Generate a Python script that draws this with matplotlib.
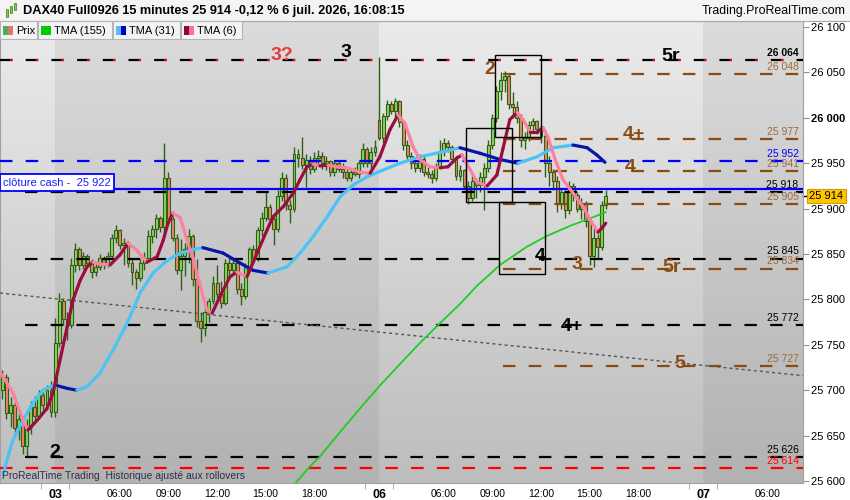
import numpy as np
import matplotlib
matplotlib.use("Agg")
import matplotlib.pyplot as plt
from matplotlib.collections import LineCollection
from matplotlib.colors import LinearSegmentedColormap
from matplotlib.patches import Rectangle
import matplotlib.transforms as mtransforms

plt.rcParams['font.family'] = ['Liberation Sans', 'DejaVu Sans']
plt.rcParams['lines.scale_dashes'] = False

## Data: 15 min bars, index 0 = first bar of day 03
bars = np.arange(-13, 137)

opens = [25700, 25715, 25675, 25684, 25658, 25668, 25638, 25660, 25682, 25672,
         25695, 25684, 25700, 25676, 25752, 25798, 25778, 25772, 25838, 25855,
         25838, 25848, 25840, 25830, 25836, 25846, 25840, 25848, 25868, 25876,
         25860, 25862, 25840, 25830, 25824, 25840, 25846, 25870, 25878, 25890,
         25880, 25934, 25888, 25868, 25832, 25848, 25855, 25870, 25822, 25776,
         25768, 25786, 25798, 25818, 25806, 25796, 25840, 25832, 25840, 25812,
         25804, 25836, 25855, 25846, 25876, 25890, 25902, 25888, 25878, 25914,
         25934, 25904, 25900, 25960, 25956, 25948, 25954, 25944, 25956, 25958,
         25950, 25952, 25940, 25950, 25944, 25940, 25934, 25940, 25938, 25950,
         25966, 25950, 25962, 25998, 25978, 26002, 26015, 26008, 26018, 25995,
         25970, 25958, 25950, 25945, 25955, 25940, 25938, 25934, 25946, 25962,
         25972, 25968, 25955, 25936, 25942, 25925, 25912, 25930, 25926, 25935,
         25945, 25970, 26000, 26030, 26042, 26046, 26015, 26012, 26000, 25975,
         25978, 25992, 25996, 25988, 25980, 25950, 25940, 25930, 25905, 25918,
         25898, 25925, 25915, 25900, 25905, 25886, 25848, 25868, 25858, 25904]
highs = [25722, 25718, 25692, 25688, 25675, 25672, 25668, 25688, 25694, 25700,
         25698, 25706, 25710, 25780, 25807, 25802, 25786, 25846, 25862, 25858,
         25852, 25850, 25845, 25840, 25850, 25848, 25852, 25872, 25882, 25878,
         25868, 25864, 25846, 25834, 25845, 25852, 25876, 25882, 25894, 25892,
         25972, 25940, 25892, 25872, 25866, 25862, 25878, 25872, 25845, 25786,
         25792, 25802, 25826, 25838, 25820, 25845, 25848, 25846, 25842, 25818,
         25840, 25858, 25860, 25880, 25896, 25918, 25905, 25892, 25920, 25940,
         25938, 25910, 25968, 25966, 25979, 25960, 25958, 25962, 25964, 25962,
         25958, 25954, 25954, 25952, 25950, 25944, 25944, 25946, 25954, 25972,
         25968, 25968, 25975, 26067, 26005, 26020, 26018, 26022, 26020, 25998,
         25975, 25962, 25954, 25960, 25958, 25946, 25942, 25950, 25975, 25978,
         25976, 25970, 25958, 25948, 25944, 25930, 25936, 25934, 25940, 25950,
         25975, 26004, 26035, 26050, 26052, 26048, 26028, 26018, 26004, 25984,
         25996, 26000, 25998, 25992, 25988, 25958, 25944, 25936, 25922, 25920,
         25930, 25928, 25918, 25912, 25908, 25888, 25880, 25872, 25908, 25920]
lows = [25690, 25668, 25660, 25650, 25645, 25630, 25628, 25652, 25665, 25668,
        25676, 25678, 25670, 25670, 25748, 25772, 25755, 25768, 25830, 25832,
        25834, 25836, 25824, 25826, 25832, 25834, 25836, 25844, 25862, 25856,
        25838, 25836, 25816, 25812, 25820, 25832, 25844, 25862, 25868, 25874,
        25872, 25884, 25864, 25828, 25810, 25826, 25840, 25815, 25770, 25753,
        25760, 25775, 25795, 25800, 25790, 25794, 25826, 25828, 25806, 25794,
        25800, 25832, 25840, 25842, 25870, 25886, 25884, 25860, 25874, 25908,
        25898, 25884, 25896, 25946, 25944, 25924, 25938, 25940, 25948, 25944,
        25942, 25936, 25936, 25940, 25934, 25930, 25930, 25936, 25934, 25946,
        25946, 25944, 25958, 25975, 25972, 25998, 26004, 26000, 25990, 25964,
        25952, 25944, 25940, 25940, 25936, 25934, 25928, 25930, 25944, 25958,
        25962, 25950, 25932, 25930, 25922, 25905, 25908, 25912, 25918, 25898,
        25940, 25966, 25995, 26020, 26028, 26010, 26000, 25994, 25968, 25966,
        25974, 25985, 25982, 25972, 25935, 25925, 25920, 25896, 25900, 25890,
        25894, 25908, 25896, 25888, 25880, 25838, 25836, 25846, 25854, 25900]
closes = [25715, 25675, 25684, 25658, 25668, 25638, 25660, 25682, 25672, 25695,
          25684, 25700, 25676, 25752, 25798, 25778, 25772, 25838, 25855, 25838,
          25848, 25840, 25830, 25836, 25846, 25840, 25848, 25868, 25876, 25860,
          25862, 25840, 25830, 25824, 25840, 25846, 25870, 25878, 25890, 25880,
          25934, 25888, 25868, 25832, 25848, 25855, 25870, 25822, 25776, 25768,
          25786, 25798, 25818, 25806, 25796, 25840, 25832, 25840, 25812, 25804,
          25836, 25855, 25846, 25876, 25890, 25902, 25888, 25878, 25914, 25934,
          25904, 25900, 25960, 25956, 25948, 25954, 25944, 25956, 25958, 25950,
          25952, 25940, 25950, 25944, 25940, 25934, 25940, 25938, 25950, 25966,
          25950, 25962, 25968, 25978, 26002, 26015, 26008, 26018, 25995, 25970,
          25958, 25950, 25945, 25955, 25940, 25938, 25934, 25946, 25962, 25972,
          25968, 25955, 25936, 25942, 25925, 25912, 25930, 25926, 25935, 25945,
          25970, 26000, 26030, 26042, 26046, 26015, 26012, 26000, 25975, 25978,
          25992, 25996, 25988, 25980, 25950, 25940, 25930, 25905, 25918, 25898,
          25925, 25915, 25900, 25905, 25886, 25848, 25868, 25858, 25904, 25914]

## Moving averages
tma6_x = [-13.6, -10.4, -7.9, -6.7, -4.4, -2.0, -0.5, 1.2, 3.0, 4.4, 6.2, 7.9, 9.4, 11.1,
          13.6, 16.0, 18.0, 20.2, 22.7, 25.2, 26.7, 27.9, 29.1, 30.9, 32.6, 34.1, 35.8,
          37.5, 38.8, 40.7, 43.2, 44.9, 47.4, 49.9, 52.3, 53.8, 56.3, 58.8, 60.5, 62.2,
          63.7, 65.4, 67.4, 69.6, 72.1, 75.3, 77.8, 80.2, 82.7, 84.7, 86.4, 88.4, 90.1,
          92.6, 95.1, 97.0, 99.3, 100.5, 102.5, 104.2, 106.7, 109.1, 110.6, 112.3, 114.1,
          115.6, 117.3, 119.0, 120.5, 121.7, 123.5, 125.4, 127.9, 130.4, 132.6, 134.1,
          135.3, 136.0]
tma6_y = [25720, 25697, 25667, 25656, 25667, 25680, 25697, 25733, 25770, 25799, 25821, 25836,
          25841, 25839, 25838, 25849, 25862, 25854, 25841, 25847, 25865, 25884, 25895, 25890,
          25865, 25845, 25816, 25788, 25785, 25803, 25825, 25830, 25825, 25851, 25876, 25891,
          25902, 25917, 25932, 25946, 25949, 25947, 25948, 25946, 25945, 25940, 25939, 25957,
          25987, 26003, 25994, 25968, 25954, 25946, 25945, 25946, 25956, 25959, 25943, 25929,
          25925, 25937, 25966, 25998, 26006, 25998, 25984, 25984, 25989, 25979, 25954, 25932,
          25917, 25902, 25884, 25874, 25880, 25884]
tma31_x = [-12.8, -11.9, -10.4, -7.9, -5.4, -3.0, -0.5, 0.5, 3.0, 5.4, 7.9, 11.1, 14.3,
           17.8, 21.0, 24.2, 27.7, 30.9, 34.1, 36.5, 41.5, 45.7, 48.9, 52.6, 57.3, 60.5,
           63.7, 67.2, 70.4, 73.6, 77.0, 80.2, 85.2, 90.1, 95.1, 100.0, 104.9, 109.9,
           114.3, 119.0, 123.0, 127.9, 131.4, 133.8, 135.8]
tma31_y = [25607, 25623, 25645, 25667, 25686, 25700, 25705, 25705, 25702, 25700, 25704,
           25719, 25744, 25774, 25807, 25829, 25843, 25851, 25855, 25857, 25851, 25840,
           25832, 25829, 25836, 25851, 25869, 25891, 25913, 25926, 25935, 25941, 25950,
           25957, 25962, 25967, 25961, 25954, 25950, 25957, 25967, 25970, 25967, 25959,
           25951]
tma155_x = [58.5, 62.5, 65.4, 70.4, 75.3, 80.2, 85.2, 90.1, 95.1, 100.0, 104.2, 109.9,
            116.5, 121.5, 127.2, 131.4, 136.0]
tma155_y = [25593, 25614, 25627, 25654, 25680, 25705, 25729, 25752, 25774, 25795, 25815,
            25838, 25858, 25870, 25881, 25888, 25896]

## Horizontal levels
black_red_level = 26064
brown_levels = [26048, 25977, 25941, 25905, 25834, 25727]
black_levels = [25918, 25845, 25772, 25626]
blue_dash_level = 25952
red_level = 25614
cash_close = 25922
last_price = 25914

## Trend line and zones
trend_x = [-13.6, 184.7]
trend_y = [25807, 25716]
box_x0 = [108.6, 101.5, 109.6]
box_x1 = [120.0, 112.8, 121.0]
box_lo = [25979, 25907, 25828]
box_hi = [26069, 25989, 25907]

## Wave labels
wave_text = ['3?', '3', '2', '5r', '4+', '4', '4', '3', '5r', '4+', '5', '2']
wave_x = [56.0, 71.9, 107.4, 151.9, 143.0, 142.0, 119.8, 128.9, 152.3, 127.7, 154.3, 0.0]
wave_y = [26069, 26072, 26053, 26067, 25982, 25945, 25847, 25838, 25835, 25770, 25729, 25631]
wave_col = ['#e83a3a', 'black', '#8a4b12', 'black', '#8a4b12', '#8a4b12', 'black',
            '#8a4b12', '#8a4b12', 'black', '#8a4b12', 'black']

## Axis ticks
x_tick_pos = [0, 16, 28, 40, 52, 64, 80, 96, 108, 120, 132, 144, 160, 176]
x_tick_lab = ['03', '06:00', '09:00', '12:00', '15:00', '18:00', '06', '06:00', '09:00',
              '12:00', '15:00', '18:00', '07', '06:00']
day_starts = [0, 80, 160]

XMIN, XMAX = -13.6, 184.7
YMIN, YMAX = 25597.8, 26106.6
BROWN = '#8a4b12'
BROWN_TXT = '#9a6a3a'

fig = plt.figure(figsize=(8.5, 5), dpi=100)
fig.patch.set_facecolor('white')
ax = fig.add_axes([0, 17 / 500, 803 / 850, 462 / 500])

## background: alternating day shading with vertical gradient
light = LinearSegmentedColormap.from_list('l', ['#ebebeb', '#bdbdbd'])
dark = LinearSegmentedColormap.from_list('d', ['#dcdcdc', '#b2b2b2'])
grad = np.linspace(0, 1, 256).reshape(-1, 1)
edges = [XMIN] + day_starts + [XMAX]
for i in range(len(edges) - 1):
    cm = light if i % 2 == 0 else dark
    ax.imshow(grad, extent=[edges[i], edges[i + 1], YMIN, YMAX], aspect='auto',
              cmap=cm, origin='upper', zorder=0)

## candles
o = np.array(opens); h = np.array(highs); l = np.array(lows); c = np.array(closes)
up = c >= o
ax.vlines(bars, l, h, color='#2f5f12', lw=1, zorder=2)
ax.bar(bars, np.maximum(np.abs(c - o), 1.0), bottom=np.minimum(o, c), width=0.72,
       color=np.where(up, '#86d65a', '#e8876b'), edgecolor='#2f5f12', linewidth=0.8,
       zorder=3)

## levels
dash = (9, 9.5)
ax.plot([XMIN, XMAX], [black_red_level] * 2, color='black', lw=1.6, dashes=dash, zorder=4)
ax.plot([XMIN, XMAX], [black_red_level] * 2, color='#ff0000', lw=1.6,
        linestyle=(11.3, (1.8, 16.7)), zorder=4)
for v in brown_levels:
    ax.plot([110.6, XMAX], [v, v], color=BROWN, lw=1.6, dashes=dash, zorder=4)
for v in black_levels:
    ax.plot([-7.4, XMAX], [v, v], color='black', lw=1.6, dashes=dash, zorder=4)
ax.plot([XMIN, XMAX], [blue_dash_level] * 2, color='#0000ff', lw=1.6, dashes=dash, zorder=4)
ax.plot([XMIN, XMAX], [red_level] * 2, color='#ff0000', lw=1.6, dashes=dash, zorder=4)
ax.plot([XMIN, XMAX], [cash_close] * 2, color='#0000ff', lw=1.6, zorder=4)
ax.plot(trend_x, trend_y, color='#555555', lw=1, dashes=(2.2, 2.2), zorder=4)

## level labels on the right
lab_x = 183.6
def lvl_label(v, col, weight='normal'):
    ax.annotate(f"{v:,}".replace(',', ' '), (lab_x, v), xytext=(0, 1.5),
                textcoords='offset points', ha='right', va='bottom', fontsize=7.5,
                color=col, fontweight=weight, zorder=6)

lvl_label(black_red_level, 'black', 'bold')
for v in brown_levels:
    lvl_label(v, BROWN_TXT)
for v in black_levels:
    lvl_label(v, 'black')
lvl_label(blue_dash_level, '#0000ff')
lvl_label(red_level, '#ff0000')

## moving averages
def colored_line(xs, ys, up_col, down_col, lw):
    pts = np.column_stack([xs, ys])
    segs = np.stack([pts[:-1], pts[1:]], axis=1)
    cols = [up_col if ys[i + 1] >= ys[i] else down_col for i in range(len(ys) - 1)]
    ax.add_collection(LineCollection(segs, colors=cols, linewidths=lw,
                                     capstyle='round', zorder=5))

ax.plot(tma155_x, tma155_y, color='#22cc22', lw=1.3, zorder=5)
colored_line(tma31_x, tma31_y, '#4cc3f5', '#0a14a8', 2.3)
colored_line(tma6_x, tma6_y, '#9b0d3e', '#ff7fa0', 2.3)

## zones
for i in range(len(box_x0)):
    ax.add_patch(Rectangle((box_x0[i], box_lo[i]), box_x1[i] - box_x0[i],
                           box_hi[i] - box_lo[i], fill=False, ec='black', lw=1, zorder=6))

## wave labels
for t, x, y, col in zip(wave_text, wave_x, wave_y, wave_col):
    ax.text(x, y, t, color=col, fontsize=14, fontweight='bold', ha='center',
            va='center', zorder=7)

## axes
ax.set_xlim(XMIN, XMAX)
ax.set_ylim(YMIN, YMAX)
for s in ax.spines.values():
    s.set_color('#a0a0a0')
    s.set_linewidth(0.8)

yt = np.arange(25600, 26101, 50)
ax.yaxis.tick_right()
ax.set_yticks(yt)
ax.set_yticklabels([f"{v:,}".replace(',', ' ') for v in yt])
ax.tick_params(axis='y', length=4, pad=2, labelsize=8, color='#909090')
for t in ax.get_yticklabels():
    if t.get_text() == '26 000':
        t.set_fontweight('bold')

ax.set_xticks(x_tick_pos)
ax.set_xticklabels(x_tick_lab)
ax.tick_params(axis='x', length=0, pad=4, labelsize=7.5)
for t in ax.get_xticklabels():
    if ':' not in t.get_text():
        t.set_fontweight('bold')
        t.set_fontsize(9)
ax.set_xticks([-3.5, 3.5, 76.5, 83.5, 156.5, 163.5, 176], minor=True)
ax.tick_params(axis='x', which='minor', length=4, color='#a0a0a0')

## last price marker
tr = mtransforms.blended_transform_factory(ax.transAxes, ax.transData)
ax.text(1.029, last_price, f"{last_price:,}".replace(',', ' '), transform=tr,
        fontsize=8, ha='center', va='center', clip_on=False, zorder=8,
        bbox=dict(boxstyle='square,pad=0.2', fc='#ffc400', ec='#d0a000', lw=0.8))
ax.plot([1.0, 1.006], [last_price] * 2, transform=tr, color='black', lw=1,
        clip_on=False)

## figure decorations (pixel positions)
def fx(px):
    return px / 850

def fy(py):
    return 1 - py / 500

fig.add_artist(Rectangle((0, fy(21)), 1, 21 / 500, transform=fig.transFigure,
                         fc='#f4f4f4', ec='none', zorder=1))
fig.add_artist(plt.Line2D([0, 1], [fy(21), fy(21)], transform=fig.transFigure,
                          color='#a8a8a8', lw=0.8, zorder=2))
for cx, cy0, cy1 in [(7, 9, 17), (11, 6, 13), (15, 3, 10)]:
    fig.add_artist(Rectangle((fx(cx - 1.2), fy(cy1)), 2.4 / 850, (cy1 - cy0) / 500,
                             transform=fig.transFigure, fc='#7ccc4c', ec='#3c7a1c',
                             lw=0.5, zorder=2))
fig.text(fx(23), fy(11), "DAX40 Full0926 15 minutes 25 914 -0,12 % 6 juil. 2026, 16:08:15",
         fontsize=9.2, fontweight='bold', va='center', ha='left', zorder=3)
fig.text(fx(846), fy(11), "Trading.ProRealTime.com", fontsize=8.9, va='center',
         ha='right', zorder=3)

legend_boxes = [(0, 37, 'Prix', '#4caf50', '#e57373'),
                (38, 112, 'TMA (155)', '#00cc00', '#00cc00'),
                (113, 180, 'TMA (31)', '#4fc3f7', '#0000c8'),
                (181, 242, 'TMA (6)', '#8b0a3a', '#ff6b9a')]
for x0, x1, name, c1, c2 in legend_boxes:
    fig.add_artist(Rectangle((fx(x0), fy(39)), (x1 - x0) / 850, 18 / 500,
                             transform=fig.transFigure, fc='#f3f3f3', ec='#b4b4b4',
                             lw=0.8, zorder=2))
    fig.add_artist(Rectangle((fx(x0 + 3), fy(35)), 5 / 850, 9 / 500,
                             transform=fig.transFigure, fc=c1, ec='none', zorder=3))
    fig.add_artist(Rectangle((fx(x0 + 8), fy(35)), 5 / 850, 9 / 500,
                             transform=fig.transFigure, fc=c2, ec='none', zorder=3))
    fig.text(fx(x0 + 16), fy(30.5), name, fontsize=8, va='center', ha='left', zorder=4)

fig.text(fx(3), fy(182.5), "clôture cash -  25 922", fontsize=8, color='#1a1aff',
         va='center', ha='left', zorder=4,
         bbox=dict(boxstyle='square,pad=0.3', fc='white', ec='#0000ff', lw=1.3))
fig.text(fx(2), fy(476), "ProRealTime Trading  Historique ajusté aux rollovers",
         fontsize=7.5, color='#303048', va='center', ha='left', zorder=4)

fig.savefig('out.png', dpi=100)
